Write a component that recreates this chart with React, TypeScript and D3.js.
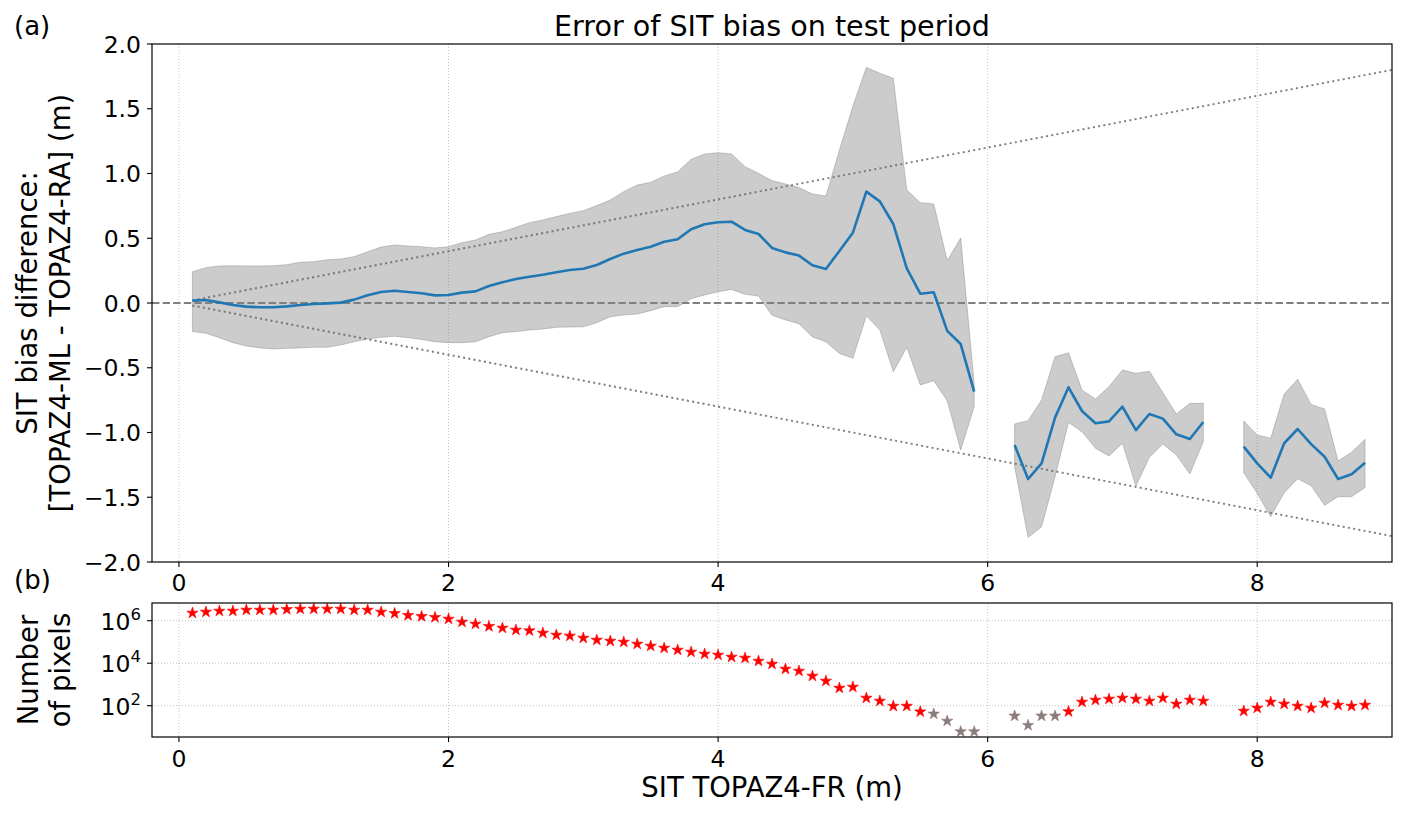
import React from 'react';
import * as d3 from 'd3';

// ---------- data ----------
const xTicks = [0, 2, 4, 6, 8];
const yTicksTop = [-2, -1.5, -1, -0.5, 0, 0.5, 1, 1.5, 2];
const yTicksBottomExp = [2, 4, 6];

const sit1 = [0.1, 0.2, 0.3, 0.4, 0.5, 0.6, 0.7, 0.8, 0.9, 1.0, 1.1, 1.2, 1.3, 1.4, 1.5, 1.6, 1.7, 1.8, 1.9, 2.0,
  2.1, 2.2, 2.3, 2.4, 2.5, 2.6, 2.7, 2.8, 2.9, 3.0, 3.1, 3.2, 3.3, 3.4, 3.5, 3.6, 3.7, 3.8, 3.9, 4.0,
  4.1, 4.2, 4.3, 4.4, 4.5, 4.6, 4.7, 4.8, 4.9, 5.0, 5.1, 5.2, 5.3, 5.4, 5.5, 5.6, 5.7, 5.8, 5.9];
const bias1 = [0.018, 0.023, 0.005, -0.015, -0.028, -0.033, -0.033, -0.026, -0.015, -0.008, -0.003, 0.003, 0.026, 0.059, 0.085, 0.095, 0.085, 0.075, 0.059, 0.062,
  0.080, 0.090, 0.131, 0.160, 0.185, 0.203, 0.218, 0.237, 0.255, 0.265, 0.293, 0.340, 0.381, 0.409, 0.435, 0.473, 0.492, 0.569, 0.608, 0.623,
  0.628, 0.564, 0.533, 0.425, 0.391, 0.366, 0.291, 0.263, 0.402, 0.543, 0.860, 0.785, 0.610, 0.268, 0.072, 0.083, -0.215, -0.317, -0.685];
const upper1 = [0.242, 0.273, 0.286, 0.288, 0.286, 0.286, 0.288, 0.296, 0.314, 0.319, 0.334, 0.340, 0.358, 0.396, 0.432, 0.448, 0.440, 0.435, 0.425, 0.435,
  0.466, 0.486, 0.530, 0.551, 0.584, 0.620, 0.641, 0.667, 0.692, 0.713, 0.752, 0.795, 0.860, 0.911, 0.932, 0.981, 1.012, 1.110, 1.151, 1.160,
  1.151, 1.053, 1.001, 0.945, 0.919, 0.891, 0.842, 0.826, 1.18, 1.52, 1.820, 1.774, 1.735, 0.873, 0.775, 0.764, 0.327, 0.502, -0.62];
const lower1 = [-0.221, -0.234, -0.268, -0.306, -0.332, -0.347, -0.355, -0.350, -0.347, -0.342, -0.342, -0.324, -0.299, -0.278, -0.265, -0.257, -0.268, -0.281, -0.299, -0.306,
  -0.306, -0.299, -0.260, -0.229, -0.221, -0.208, -0.201, -0.188, -0.185, -0.183, -0.152, -0.106, -0.093, -0.085, -0.059, -0.028, -0.028, 0.033, 0.062, 0.087,
  0.105, 0.067, 0.054, -0.095, -0.131, -0.160, -0.262, -0.299, -0.389, -0.427, -0.098, -0.208, -0.530, -0.342, -0.633, -0.600, -0.754, -1.135, -0.801];
const count1 = [2300000, 2560000, 2850000, 2850000, 3180000, 3180000, 3180000, 3410000, 3540000, 3540000, 3540000, 3540000, 3180000, 3180000, 2560000, 2210000, 1780000, 1600000, 1440000, 1200000,
  865000, 697000, 541000, 452000, 364000, 338000, 263000, 212000, 191000, 153000, 123000, 110000, 99000, 79800, 64300, 51800, 41700, 33600, 27000, 24200,
  19500, 17500, 12600, 9140, 5320, 4280, 2490, 1450, 678, 755, 230, 166, 96, 96, 52, 41, 19, 6, 6];

const sit2 = [6.2, 6.3, 6.4, 6.5, 6.6, 6.7, 6.8, 6.9, 7.0, 7.1, 7.2, 7.3, 7.4, 7.5, 7.6];
const bias2 = [-1.097, -1.359, -1.238, -0.885, -0.651, -0.834, -0.929, -0.914, -0.801, -0.981, -0.857, -0.893, -1.014, -1.050, -0.919];
const upper2 = [-0.934, -0.909, -0.749, -0.415, -0.384, -0.672, -0.741, -0.646, -0.517, -0.543, -0.527, -0.693, -0.857, -0.775, -0.775];
const lower2 = [-1.264, -1.81, -1.727, -1.341, -0.922, -0.994, -1.122, -1.181, -1.083, -1.413, -1.192, -1.089, -1.174, -1.320, -1.071];
const count2 = [33, 12, 33, 33, 53, 149, 185, 206, 230, 206, 166, 230, 120, 185, 166];

const sit3 = [7.9, 8.0, 8.1, 8.2, 8.3, 8.4, 8.5, 8.6, 8.7, 8.8];
const bias3 = [-1.109, -1.238, -1.349, -1.083, -0.973, -1.090, -1.187, -1.359, -1.323, -1.233];
const upper3 = [-0.911, -1.019, -1.045, -0.703, -0.589, -0.783, -0.819, -1.220, -1.153, -1.053];
const lower3 = [-1.310, -1.470, -1.650, -1.465, -1.357, -1.411, -1.562, -1.496, -1.496, -1.424];
const count3 = [56, 78, 149, 120, 96, 78, 134, 107, 96, 107];

const lowCountThreshold = 50;
const refSlope = 0.2; // dotted reference lines y = ±0.2 x
const refX = [0.1, 9.0];

// ---------- layout ----------
const W = 1408;
const H = 817;
const L = 152, R = 1392;
const T1 = 44, B1 = 562;
const T2 = 603, B2 = 737;
const FONT = 'DejaVu Sans, sans-serif';

export default function App() {
  const x = d3.scaleLinear().domain([-0.2, 9.0]).range([L, R]);
  const y = d3.scaleLinear().domain([-2, 2]).range([B1, T1]);
  const yn = d3.scaleLog().domain([Math.pow(10, 0.527), Math.pow(10, 6.833)]).range([B2, T2]);

  const segs = [
    { sx: sit1, b: bias1, u: upper1, l: lower1, n: count1 },
    { sx: sit2, b: bias2, u: upper2, l: lower2, n: count2 },
    { sx: sit3, b: bias3, u: upper3, l: lower3, n: count3 },
  ];

  const fmt = d3.format('.1f');
  const star = d3.symbol().type(d3.symbolStar).size(40)();

  const tickFont = 23.5;
  const labelFont = 27.5;

  return (
    <svg width={W} height={H} style={{ position: 'absolute', left: 0, top: 0, background: '#fff' }} fontFamily={FONT}>
      <defs>
        <clipPath id="clipTop"><rect x={L} y={T1} width={R - L} height={B1 - T1} /></clipPath>
        <clipPath id="clipBot"><rect x={L} y={T2} width={R - L} height={B2 - T2} /></clipPath>
      </defs>
      <rect x={0} y={0} width={W} height={H} fill="#fff" />

      {/* ---------- top panel ---------- */}
      {xTicks.map((t) => (
        <line key={'gx' + t} x1={x(t)} x2={x(t)} y1={T1} y2={B1} stroke="#b0b0b0" strokeWidth={0.8} strokeDasharray="1,2" />
      ))}
      <g clipPath="url(#clipTop)">
        {segs.map((s, k) => {
          const pts = s.sx.map((v, i) => ({ x: v, u: s.u[i], l: s.l[i], b: s.b[i] }));
          const a = d3.area<any>().x((d) => x(d.x)).y0((d) => y(d.l)).y1((d) => y(d.u));
          return (
            <path key={'band' + k} d={a(pts) || ''} fill="grey" fillOpacity={0.4} stroke="grey" strokeOpacity={0.4} strokeWidth={1} />
          );
        })}
        <line x1={L} x2={R} y1={y(0)} y2={y(0)} stroke="grey" strokeWidth={2} strokeDasharray="7.4,3.2" />
        <line x1={x(refX[0])} x2={x(refX[1])} y1={y(refSlope * refX[0])} y2={y(refSlope * refX[1])} stroke="dimgrey" strokeOpacity={0.85} strokeWidth={2} strokeDasharray="2,3.3" />
        <line x1={x(refX[0])} x2={x(refX[1])} y1={y(-refSlope * refX[0])} y2={y(-refSlope * refX[1])} stroke="dimgrey" strokeOpacity={0.85} strokeWidth={2} strokeDasharray="2,3.3" />
        {segs.map((s, k) => {
          const ln = d3.line<number>().x((_, i) => x(s.sx[i])).y((d) => y(d));
          return <path key={'ln' + k} d={ln(s.b) || ''} fill="none" stroke="#1f77b4" strokeWidth={2.6} strokeLinejoin="round" />;
        })}
      </g>
      <rect x={L} y={T1} width={R - L} height={B1 - T1} fill="none" stroke="#000" strokeWidth={1.2} />
      {xTicks.map((t) => (
        <g key={'tx1' + t}>
          <line x1={x(t)} x2={x(t)} y1={B1} y2={B1 + 5} stroke="#000" strokeWidth={1.1} />
          <text x={x(t)} y={B1 + 28.5} textAnchor="middle" fontSize={tickFont}>{t}</text>
        </g>
      ))}
      {yTicksTop.map((t) => (
        <g key={'ty1' + t}>
          <line x1={L - 5} x2={L} y1={y(t)} y2={y(t)} stroke="#000" strokeWidth={1.1} />
          <text x={L - 11} y={y(t) + 8.5} textAnchor="end" fontSize={tickFont}>{fmt(t)}</text>
        </g>
      ))}
      <text x={(L + R) / 2} y={36} textAnchor="middle" fontSize={28.6}>Error of SIT bias on test period</text>
      <text transform={`translate(37,${(T1 + B1) / 2}) rotate(-90)`} textAnchor="middle" fontSize={labelFont}>SIT bias difference:</text>
      <text transform={`translate(70,${(T1 + B1) / 2}) rotate(-90)`} textAnchor="middle" fontSize={labelFont}>[TOPAZ4-ML - TOPAZ4-RA] (m)</text>
      <text x={14} y={35} fontSize={26}>(a)</text>

      {/* ---------- bottom panel ---------- */}
      {xTicks.map((t) => (
        <line key={'gx2' + t} x1={x(t)} x2={x(t)} y1={T2} y2={B2} stroke="#b0b0b0" strokeWidth={0.8} strokeDasharray="1,2" />
      ))}
      {yTicksBottomExp.map((e) => (
        <line key={'gy2' + e} x1={L} x2={R} y1={yn(Math.pow(10, e))} y2={yn(Math.pow(10, e))} stroke="#b0b0b0" strokeWidth={0.8} strokeDasharray="1,2" />
      ))}
      <g clipPath="url(#clipBot)">
        {segs.map((s, k) =>
          s.sx.map((v, i) => {
            const low = s.n[i] < lowCountThreshold;
            return (
              <path key={'st' + k + '-' + i} d={star || ''} transform={`translate(${x(v)},${yn(s.n[i])})`}
                fill={low ? 'grey' : 'red'} stroke={low ? '#a07070' : 'red'} strokeWidth={0.6} />
            );
          })
        )}
      </g>
      <rect x={L} y={T2} width={R - L} height={B2 - T2} fill="none" stroke="#000" strokeWidth={1.2} />
      {xTicks.map((t) => (
        <g key={'tx2' + t}>
          <line x1={x(t)} x2={x(t)} y1={B2} y2={B2 + 5} stroke="#000" strokeWidth={1.1} />
          <text x={x(t)} y={B2 + 29.5} textAnchor="middle" fontSize={tickFont}>{t}</text>
        </g>
      ))}
      {yTicksBottomExp.map((e) => (
        <g key={'ty2' + e}>
          <line x1={L - 5} x2={L} y1={yn(Math.pow(10, e))} y2={yn(Math.pow(10, e))} stroke="#000" strokeWidth={1.1} />
          <text x={L - 11} y={yn(Math.pow(10, e)) + 9} textAnchor="end" fontSize={tickFont}>
            <tspan>10</tspan>
            <tspan dy={-10} fontSize={16.5}>{e}</tspan>
          </text>
        </g>
      ))}
      <text transform={`translate(38,${(T2 + B2) / 2}) rotate(-90)`} textAnchor="middle" fontSize={labelFont}>Number</text>
      <text transform={`translate(70,${(T2 + B2) / 2}) rotate(-90)`} textAnchor="middle" fontSize={labelFont}>of pixels</text>
      <text x={14} y={589} fontSize={26}>(b)</text>
      <text x={(L + R) / 2} y={797} textAnchor="middle" fontSize={labelFont}>SIT TOPAZ4-FR (m)</text>
    </svg>
  );
}
